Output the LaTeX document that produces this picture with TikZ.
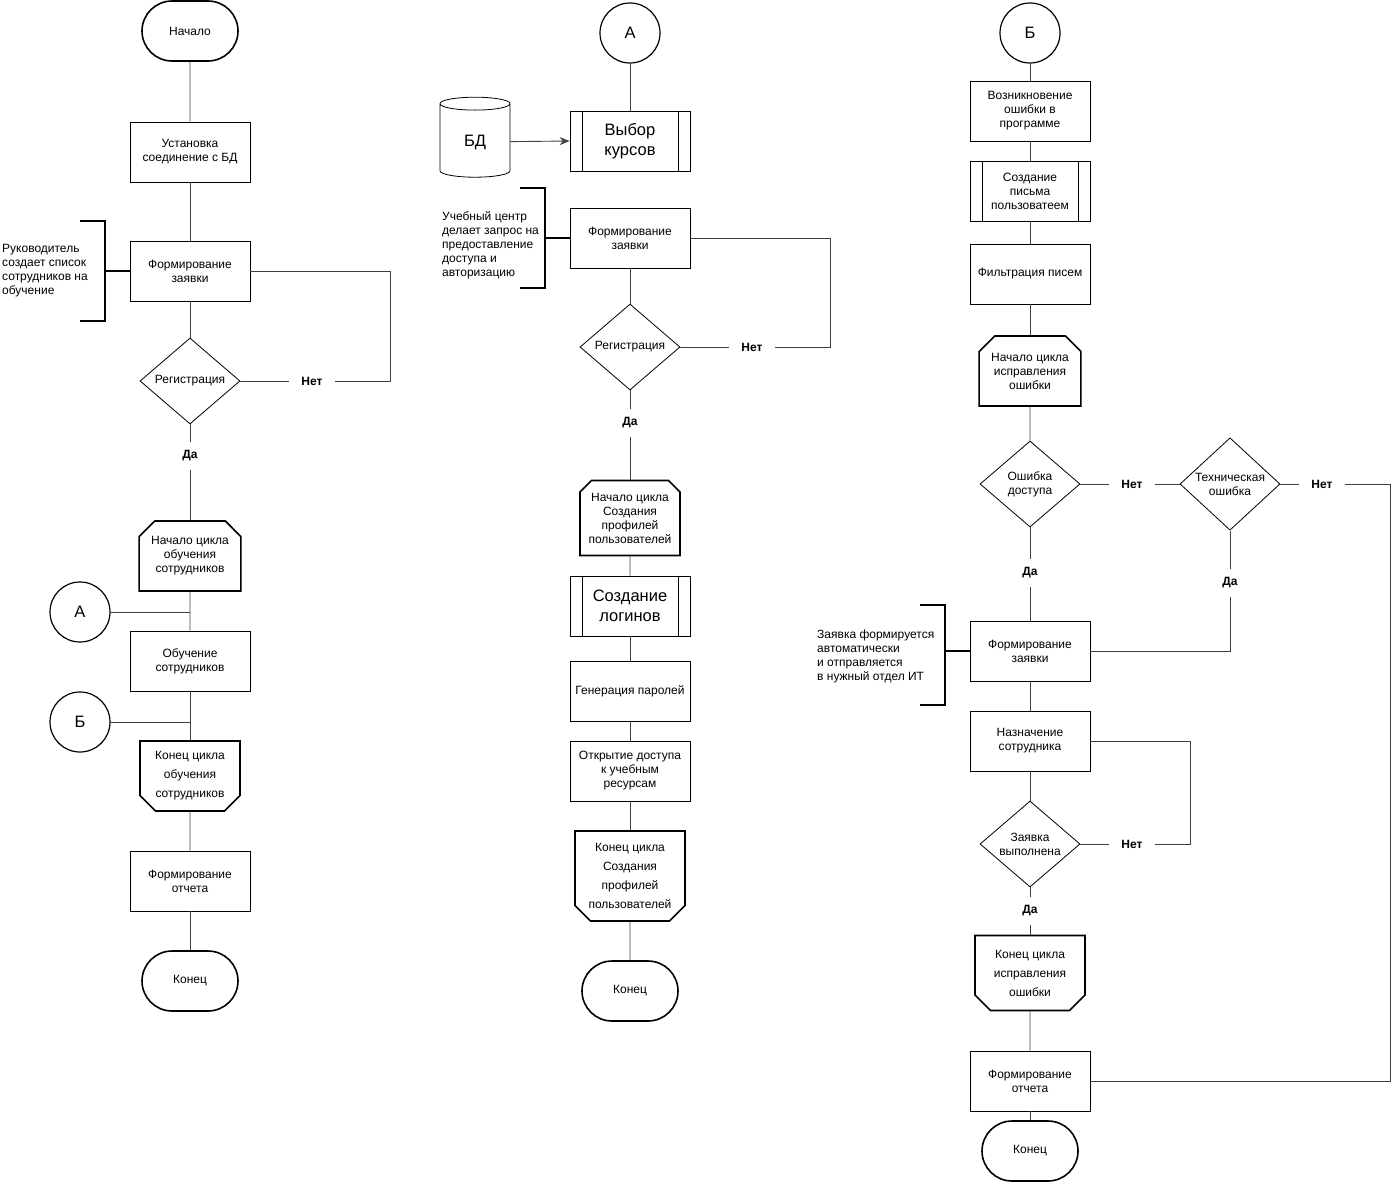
\documentclass[tikz,border=0pt]{standalone}
\usepackage{fontspec}
\setmainfont{Liberation Sans}
\usetikzlibrary{shapes.geometric,shapes.misc,arrows.meta}
\tikzset{
  base/.style={font=\fontsize{12}{14}\selectfont, align=center, inner sep=2pt},
  big/.style={font=\fontsize{16.5}{20}\selectfont},
  term/.style={base, rounded rectangle, draw, line width=1.6pt, minimum width=100pt, minimum height=60pt},
  proc/.style={base, rectangle, draw, line width=0.8pt, minimum width=120pt, minimum height=60pt},
  subproc/.style={proc, path picture={
    \draw[line width=0.8pt] ([xshift=12pt]path picture bounding box.north west) -- ([xshift=12pt]path picture bounding box.south west)
      ([xshift=-12pt]path picture bounding box.north east) -- ([xshift=-12pt]path picture bounding box.south east);}},
  dec/.style={base, diamond, draw, line width=0.8pt, minimum width=100pt, minimum height=86pt, inner sep=0pt},
  loopstart/.style={base, chamfered rectangle, chamfered rectangle corners={north west,north east},
    chamfered rectangle xsep=12pt, draw, line width=1.6pt, minimum width=100pt, minimum height=70pt, inner sep=0pt},
  loopend/.style={loopstart, chamfered rectangle corners={south west,south east}, font=\fontsize{12}{19}\selectfont},
  conn/.style={circle, draw, line width=1.2pt, minimum size=60pt, big},
  dbshape/.style={cylinder, shape border rotate=90, aspect=0.45, draw, line width=0.8pt,
    minimum width=70pt, minimum height=80pt, big},
  yn/.style={font=\bfseries\fontsize{12}{14}\selectfont, inner xsep=12pt, inner ysep=8pt},
  note/.style={base, align=left, anchor=west},
  flow/.style={line width=0.9pt, black!75},
  brk/.style={line width=1.8pt},
}
\begin{document}
\begin{tikzpicture}[x=1pt,y=-1pt]
\useasboundingbox (0,0) rectangle (1394,1183);
% first column
\node[term] (start1) at (190,31) {Начало};
\node[proc] (conndb) at (190,152) {Установка\\соединение с БД};
\node[proc] (form1) at (190,271) {Формирование\\заявки};
\node[dec] (reg1) at (190,381) {Регистрация};
\node[yn] (no1) at (312,381) {Нет};
\coordinate (c1) at (390,381);
\node[yn] (yes1) at (190,456) {Да};
\node[loopstart] (ls1) at (190,556) {Начало цикла\\обучения\\сотрудников};
\node[conn] (ca1) at (80,612) {А};
\node[proc] (learn) at (190,661) {Обучение\\сотрудников};
\node[conn] (cb1) at (80,722) {Б};
\node[loopend] (le1) at (190,776) {Конец цикла\\обучения\\сотрудников};
\node[proc] (rep1) at (190,881) {Формирование\\отчета};
\node[term] (end1) at (190,981) {Конец};
\node[note] (note1) at (0,271) {Руководитель\\создает список\\сотрудников на\\обучение};
\draw[flow] (start1) -- (conndb);
\draw[flow] (conndb) -- (form1);
\draw[flow] (form1) -- (reg1);
\draw[flow] (reg1.east) -- (no1.west);
\draw[flow] (no1.east) -- (c1) |- (form1.east);
\draw[flow] (reg1) -- (yes1);
\draw[flow] (yes1) -- (ls1);
\draw[flow] (ls1) -- (learn);
\draw[flow] (ca1) -- (ca1 -| learn);
\draw[flow] (learn) -- (le1);
\draw[flow] (cb1) -- (cb1 -| learn);
\draw[flow] (le1) -- (rep1);
\draw[flow] (rep1) -- (end1);
\draw[brk] (80,221) -- (105,221) -- (105,321) -- (80,321);
\draw[brk] (form1.west) -- (105,271);
% second column
\node[conn] (ca2) at (630,33) {А};
\node[subproc, big] (courses) at (630,141) {Выбор\\курсов};
\node[dbshape] (bd) at (475,142) {БД};
\node[proc] (form2) at (630,238) {Формирование\\заявки};
\node[dec] (reg2) at (630,347) {Регистрация};
\node[yn] (no2) at (752,347) {Нет};
\coordinate (c2) at (830,347);
\node[yn] (yes2) at (630,423) {Да};
\node[loopstart, chamfered rectangle xsep=8pt, minimum height=75pt] (ls2) at (630,518) {Начало цикла\\Создания\\профилей\\пользователей};
\node[subproc, big] (logins) at (630,606) {Создание\\логинов};
\node[proc] (pass) at (630,691) {Генерация паролей};
\node[proc] (access) at (630,771) {Открытие доступа\\к учебным\\ресурсам};
\node[loopend, minimum width=110pt, minimum height=90pt] (le2) at (630,876) {Конец цикла\\Создания\\профилей\\пользователей};
\node[term] (end2) at (630,991) {Конец};
\node[note] (note2) at (440,245) {Учебный центр\\делает запрос на\\предоставление\\доступа и\\авторизацию};
\draw[flow] (ca2) -- (courses);
\draw[flow, -{Stealth[length=10pt,width=8pt]}] (bd) -- (courses.west);
\draw[flow] (form2) -- (reg2);
\draw[flow] (reg2.east) -- (no2.west);
\draw[flow] (no2.east) -- (c2) |- (form2.east);
\draw[flow] (reg2) -- (yes2);
\draw[flow] (yes2) -- (ls2);
\draw[flow] (ls2) -- (logins);
\draw[flow] (logins) -- (pass);
\draw[flow] (pass) -- (access);
\draw[flow] (access) -- (le2);
\draw[flow] (le2) -- (end2);
\draw[brk] (520,188) -- (545,188) -- (545,288) -- (520,288);
\draw[brk] (form2.west) -- (545,238);
% third column
\node[conn] (cb3) at (1030,33) {Б};
\node[proc] (err) at (1030,111) {Возникновение\\ошибки в\\программе};
\node[subproc] (letter) at (1030,191) {Создание\\письма\\пользоватеем};
\node[proc] (filter) at (1030,274) {Фильтрация писем};
\node[loopstart] (ls3) at (1030,371) {Начало цикла\\исправления\\ошибки};
\node[dec] (acc) at (1030,484) {Ошибка\\доступа};
\node[yn] (no3) at (1132,484) {Нет};
\node[dec] (tech) at (1230,484) {Техническая\\ошибка};
\node[yn] (no4) at (1322,484) {Нет};
\coordinate (c4) at (1390,484);
\node[yn] (yes3) at (1030,573) {Да};
\node[yn] (yes4) at (1230,583) {Да};
\node[proc] (zay3) at (1030,651) {Формирование\\заявки};
\node[proc] (assign) at (1030,741) {Назначение\\сотрудника};
\node[dec] (done) at (1030,844) {Заявка\\выполнена};
\node[yn] (no5) at (1132,844) {Нет};
\coordinate (c5) at (1190,844);
\node[yn] (yes5) at (1030,911) {Да};
\node[loopend, minimum width=110pt, minimum height=75pt] (le3) at (1030,973) {Конец цикла\\исправления\\ошибки};
\node[proc] (rep3) at (1030,1081) {Формирование\\отчета};
\node[term] (end3) at (1030,1151) {Конец};
\node[note] (note3) at (815,656) {Заявка формируется\\автоматически\\и отправляется\\в нужный отдел ИТ};
\draw[flow] (cb3) -- (err);
\draw[flow] (err) -- (letter);
\draw[flow] (letter) -- (filter);
\draw[flow] (filter) -- (ls3);
\draw[flow] (ls3) -- (acc);
\draw[flow] (acc.east) -- (no3.west);
\draw[flow] (no3.east) -- (tech.west);
\draw[flow] (tech.east) -- (no4.west);
\draw[flow] (no4.east) -- (c4) |- (rep3.east);
\draw[flow] (acc) -- (yes3);
\draw[flow] (yes3) -- (zay3);
\draw[flow] (tech) -- (yes4);
\draw[flow] (yes4.south) |- (zay3.east);
\draw[flow] (zay3) -- (assign);
\draw[flow] (assign) -- (done);
\draw[flow] (done.east) -- (no5.west);
\draw[flow] (no5.east) -- (c5) |- (assign.east);
\draw[flow] (done) -- (yes5);
\draw[flow] (yes5) -- (le3);
\draw[flow] (le3) -- (rep3);
\draw[flow] (rep3) -- (end3);
\draw[brk] (920,605) -- (945,605) -- (945,705) -- (920,705);
\draw[brk] (zay3.west) -- (945,651);
\end{tikzpicture}
\end{document}
